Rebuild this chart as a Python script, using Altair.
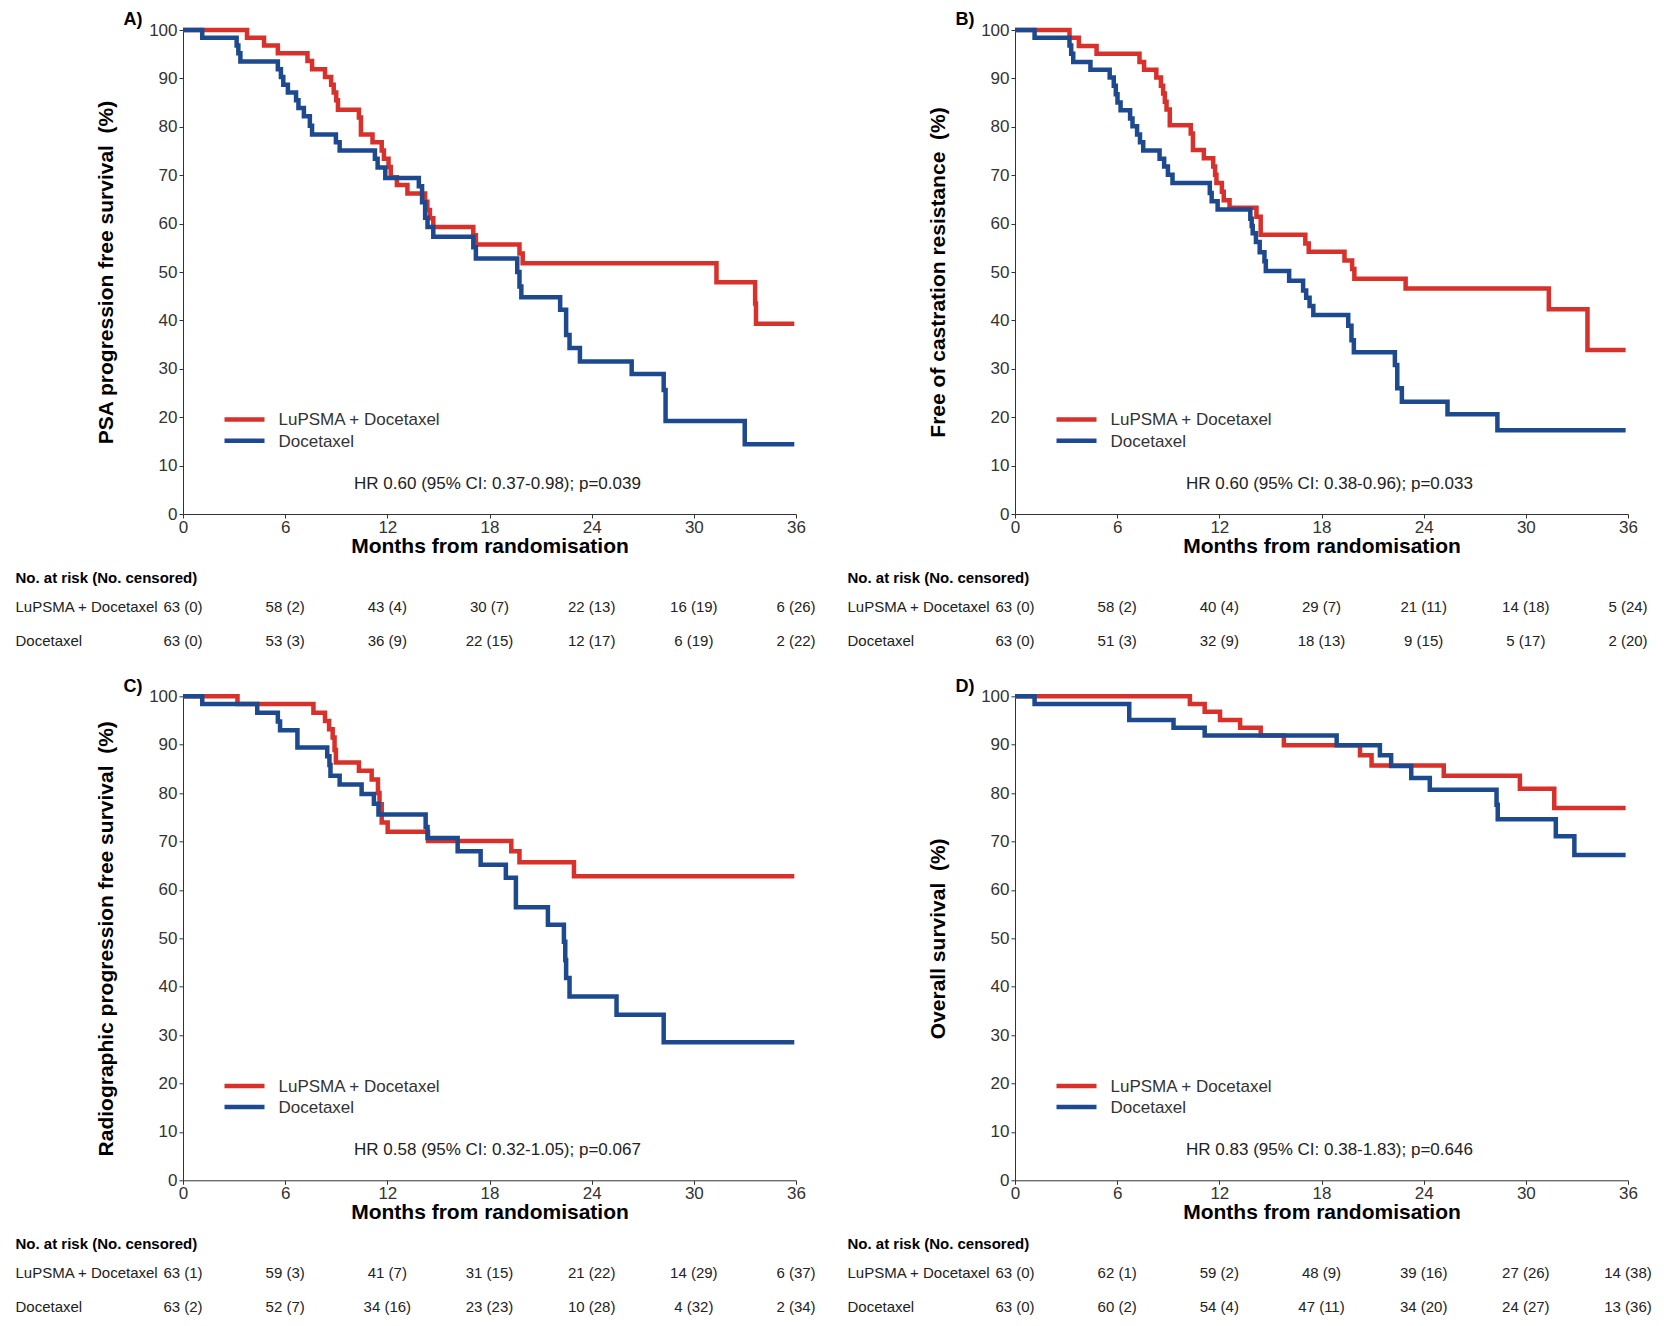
import altair as alt
import pandas as pd

RED = "#D8302A"
BLUE = "#1D4A8E"
GROUPS = ["LuPSMA + Docetaxel", "Docetaxel"]
MONTH_TICKS = [0, 6, 12, 18, 24, 30, 36]
PCT_TICKS = [0, 10, 20, 30, 40, 50, 60, 70, 80, 90, 100]
FONT = "Liberation Sans"

# ---------------- Panel A: PSA progression free survival ----------------
a_title = "PSA progression free survival\u00a0 (%)"
a_hr = "HR 0.60 (95% CI: 0.37-0.98); p=0.039"
a_lu_t = [0, 3.76, 4.76, 5.57, 7.31, 7.58, 8.34, 8.7, 8.85, 9.0, 9.1, 10.33, 10.45, 11.13, 11.67, 11.8,
          12.07, 12.2, 12.56, 13.18, 14.22, 14.35, 14.5, 14.7, 17.05, 17.2, 19.76, 19.95, 31.33, 33.6, 33.65, 35.9]
a_lu_s = [100, 98.4, 96.8, 95.2, 93.6, 91.9, 90.3, 88.7, 87.1, 85.5, 83.5, 81.9, 78.4, 76.8, 75.1, 73.4,
          71.7, 69.6, 68.0, 66.2, 64.5, 62.8, 61.1, 59.3, 57.6, 55.7, 53.8, 51.8, 47.9, 43.5, 39.3, 39.3]
a_doc_t = [0, 1.13, 3.15, 3.25, 3.37, 5.57, 5.75, 5.89, 6.16, 6.64, 6.78, 7.1, 7.45, 7.58, 8.98, 9.2,
           11.27, 11.43, 11.88, 13.85, 14.04, 14.22, 14.36, 14.7, 17.05, 17.2, 19.63, 19.76, 19.87,
           22.15, 22.5, 22.7, 23.31, 26.35, 28.23, 28.34, 32.99, 35.9]
a_doc_s = [100, 98.4, 96.8, 95.2, 93.5, 91.9, 90.3, 88.7, 87.1, 85.5, 83.9, 82.2, 80.2, 78.4, 76.8, 75.1,
           73.4, 71.6, 69.4, 67.7, 64.4, 61.2, 59.3, 57.3, 55.1, 52.8, 50.0, 47.0, 44.8,
           42.2, 37.0, 34.3, 31.5, 28.9, 25.6, 19.2, 14.4, 14.4]
a_risk_lu = ["63 (0)", "58 (2)", "43 (4)", "30 (7)", "22 (13)", "16 (19)", "6 (26)"]
a_risk_doc = ["63 (0)", "53 (3)", "36 (9)", "22 (15)", "12 (17)", "6 (19)", "2 (22)"]

# ---------------- Panel B: Free of castration resistance ----------------
b_title = "Free of castration resistance\u00a0 (%)"
b_hr = "HR 0.60 (95% CI: 0.38-0.96); p=0.033"
b_lu_t = [0, 3.2, 3.75, 4.79, 7.31, 7.58, 8.3, 8.57, 8.7, 8.8, 8.9, 9.09, 10.32, 10.45, 11.09, 11.64,
          11.75, 11.83, 12.15, 12.26, 12.6, 14.18, 14.43, 17.05, 17.25, 19.35, 19.8, 19.93, 22.94,
          31.35, 33.62, 35.86]
b_lu_s = [100, 98.4, 96.7, 95.1, 93.4, 91.8, 90.2, 88.5, 86.9, 85.2, 83.6, 80.3, 78.6, 75.2, 73.5, 71.8,
          70.1, 68.4, 66.6, 64.8, 63.3, 61.4, 57.7, 55.9, 54.2, 52.4, 50.6, 48.6, 46.6,
          42.3, 33.9, 33.9]
b_doc_t = [0, 1.15, 3.2, 3.3, 3.42, 4.43, 5.56, 5.8, 5.92, 6.02, 6.2, 6.76, 6.9, 7.17, 7.34, 7.53,
           8.49, 8.76, 8.98, 9.25, 11.44, 11.55, 11.9, 13.82, 13.9, 13.96, 14.15, 14.37, 14.65, 14.73,
           16.1, 16.92, 17.1, 17.3, 17.52, 19.57, 19.76, 19.9, 22.31, 22.45, 22.72, 25.4, 28.33, 35.86]
b_doc_s = [100, 98.4, 96.8, 95.1, 93.4, 91.8, 90.2, 88.5, 86.7, 85.0, 83.4, 81.7, 80.1, 78.4, 76.8, 75.1,
           73.4, 71.8, 70.1, 68.4, 66.3, 64.6, 62.9, 61.0, 59.5, 58.0, 56.2, 54.1, 52.2, 50.2,
           48.2, 46.2, 44.7, 43.0, 41.1, 38.9, 35.9, 33.4, 30.8, 26.0, 23.2, 20.6, 17.3, 17.3]
b_risk_lu = ["63 (0)", "58 (2)", "40 (4)", "29 (7)", "21 (11)", "14 (18)", "5 (24)"]
b_risk_doc = ["63 (0)", "51 (3)", "32 (9)", "18 (13)", "9 (15)", "5 (17)", "2 (20)"]

# ---------------- Panel C: Radiographic progression free survival ----------------
c_title = "Radiographic progression free survival\u00a0 (%)"
c_hr = "HR 0.58 (95% CI: 0.32-1.05); p=0.067"
c_lu_t = [0, 3.2, 7.66, 8.34, 8.58, 8.79, 8.9, 8.98, 10.33, 11.08, 11.45, 11.54, 11.67, 12.02, 14.39,
          19.28, 19.76, 22.96, 35.9]
c_lu_s = [100, 98.4, 96.6, 94.9, 93.2, 91.5, 88.9, 86.3, 84.6, 82.8, 80.0, 77.7, 73.9, 72.0, 70.1,
          68.0, 65.7, 62.8, 62.8]
c_doc_t = [0, 1.13, 4.36, 5.57, 5.7, 6.72, 8.47, 8.6, 8.66, 9.2, 10.49, 11.21, 11.48, 14.25, 14.36,
           16.13, 17.48, 18.96, 19.55, 21.43, 22.37, 22.45, 22.5, 22.7, 25.46, 28.23, 35.9]
c_doc_s = [100, 98.4, 96.6, 94.8, 93.0, 89.4, 87.6, 85.8, 83.6, 81.8, 79.8, 77.8, 75.6, 73.0, 70.7,
           68.0, 65.2, 62.5, 56.4, 52.8, 49.3, 45.5, 41.8, 38.0, 34.2, 28.5, 28.5]
c_risk_lu = ["63 (1)", "59 (3)", "41 (7)", "31 (15)", "21 (22)", "14 (29)", "6 (37)"]
c_risk_doc = ["63 (2)", "52 (7)", "34 (16)", "23 (23)", "10 (28)", "4 (32)", "2 (34)"]

# ---------------- Panel D: Overall survival ----------------
d_title = "Overall survival\u00a0 (%)"
d_hr = "HR 0.83 (95% CI: 0.38-1.83); p=0.646"
d_lu_t = [0, 10.27, 11.14, 12.04, 13.22, 14.43, 15.79, 20.26, 20.94, 25.18, 29.65, 31.67, 35.86]
d_lu_s = [100, 98.4, 96.8, 95.1, 93.5, 91.9, 89.9, 87.8, 85.7, 83.6, 80.9, 76.9, 76.9]
d_doc_t = [0, 1.15, 6.71, 9.31, 11.14, 18.89, 21.43, 22.09, 23.27, 24.36, 28.28, 28.35, 31.76, 32.85, 35.86]
d_doc_s = [100, 98.4, 95.1, 93.5, 91.9, 89.9, 87.8, 85.6, 83.1, 80.7, 77.6, 74.6, 71.1, 67.2, 67.2]
d_risk_lu = ["63 (0)", "62 (1)", "59 (2)", "48 (9)", "39 (16)", "27 (26)", "14 (38)"]
d_risk_doc = ["63 (0)", "60 (2)", "54 (4)", "47 (11)", "34 (20)", "24 (27)", "13 (36)"]

W, H = 613, 484

xscale = alt.Scale(domain=[0, 36], nice=False, zero=False)
yscale = alt.Scale(domain=[0, 100], nice=False)
cscale = alt.Scale(domain=GROUPS, range=[RED, BLUE])

AXIS_STYLE = dict(
    domainColor="#333333", domainWidth=1, tickColor="#333333", tickSize=4, tickWidth=1,
    labelFontSize=17, labelColor="#333333", grid=False,
    labelFlush=False, labelOverlap=False, labelFont=FONT,
    titleFontSize=21, titleFontWeight="bold", titleColor="#000000", titleFont=FONT,
)


def panel(letter, ytitle, hr, lu_t, lu_s, doc_t, doc_s, risk_lu, risk_doc):
    x_enc = alt.X("month:Q", scale=xscale,
                  axis=alt.Axis(values=MONTH_TICKS, title="Months from randomisation",
                                labelPadding=1, titlePadding=0, **AXIS_STYLE))
    y_enc = alt.Y("surv:Q", scale=yscale,
                  axis=alt.Axis(values=PCT_TICKS, title=ytitle, labelPadding=2,
                                titlePadding=32, **AXIS_STYLE))
    c_enc = alt.Color("group:N", scale=cscale, legend=None)

    lu_df = pd.DataFrame({"month": lu_t, "surv": lu_s, "group": GROUPS[0]})
    doc_df = pd.DataFrame({"month": doc_t, "surv": doc_s, "group": GROUPS[1]})

    lu_line = alt.Chart(lu_df).mark_line(interpolate="step-after", strokeWidth=4.5).encode(
        x=x_enc, y=y_enc, color=c_enc)
    doc_line = alt.Chart(doc_df).mark_line(interpolate="step-after", strokeWidth=4.5).encode(
        x=x_enc, y=y_enc, color=c_enc)

    layers = [lu_line, doc_line]

    # legend (drawn inside the plot area)
    for i, g in enumerate(GROUPS):
        ly = 389.6 + 21.2 * i
        gdf = pd.DataFrame({"group": [g]})
        layers.append(alt.Chart(gdf).mark_rule(strokeWidth=4.5).encode(
            x=alt.value(41.5), x2=alt.value(81.5), y=alt.value(ly), color=c_enc))
        layers.append(alt.Chart(gdf).mark_text(
            align="left", baseline="middle", fontSize=17, font=FONT, color="#333333").encode(
            x=alt.value(95.5), y=alt.value(ly + 0.8), text="group:N"))

    # hazard ratio annotation
    layers.append(alt.Chart(pd.DataFrame({"label": [hr]})).mark_text(
        align="center", baseline="middle", fontSize=17, font=FONT, color="#222222").encode(
        x=alt.value(314.5), y=alt.value(454), text="label:N"))

    # panel letter
    layers.append(alt.Chart(pd.DataFrame({"label": [letter]})).mark_text(
        align="left", baseline="top", fontSize=18, fontWeight="bold", font=FONT, color="#000000").encode(
        x=alt.value(-59.5), y=alt.value(-18.7), text="label:N"))

    # risk table
    layers.append(alt.Chart(pd.DataFrame({"label": ["No. at risk (No. censored)"]})).mark_text(
        align="left", baseline="middle", fontSize=15, fontWeight="bold", font=FONT, color="#000000").encode(
        x=alt.value(-167.5), y=alt.value(548), text="label:N"))
    for g, row_vals, ry in [(GROUPS[0], risk_lu, 576.5), (GROUPS[1], risk_doc, 610.5)]:
        layers.append(alt.Chart(pd.DataFrame({"label": [g]})).mark_text(
            align="left", baseline="middle", fontSize=15, font=FONT, color="#222222").encode(
            x=alt.value(-167.5), y=alt.value(ry), text="label:N"))
        rdf = pd.DataFrame({"month": MONTH_TICKS, "label": row_vals})
        layers.append(alt.Chart(rdf).mark_text(
            align="center", baseline="middle", fontSize=15, font=FONT, color="#222222").encode(
            x=x_enc, y=alt.value(ry), text="label:N"))

    return alt.layer(*layers).properties(width=W, height=H)


pA = panel("A)", a_title, a_hr, a_lu_t, a_lu_s, a_doc_t, a_doc_s, a_risk_lu, a_risk_doc)
pB = panel("B)", b_title, b_hr, b_lu_t, b_lu_s, b_doc_t, b_doc_s, b_risk_lu, b_risk_doc)
pC = panel("C)", c_title, c_hr, c_lu_t, c_lu_s, c_doc_t, c_doc_s, c_risk_lu, c_risk_doc)
pD = panel("D)", d_title, d_hr, d_lu_t, d_lu_s, d_doc_t, d_doc_s, d_risk_lu, d_risk_doc)

chart = alt.ConcatChart(
    concat=[pA, pB, pC, pD], columns=2,
    spacing=alt.RowColnumber(row=182.3, column=219),
    bounds="flush",
).properties(
    padding={"left": 7, "top": 3, "right": 0, "bottom": 0},
).configure(
    font=FONT, background="white"
).configure_view(
    stroke="transparent", strokeWidth=0
)

chart.save("out.html", embed_options={"renderer": "svg", "actions": False})
